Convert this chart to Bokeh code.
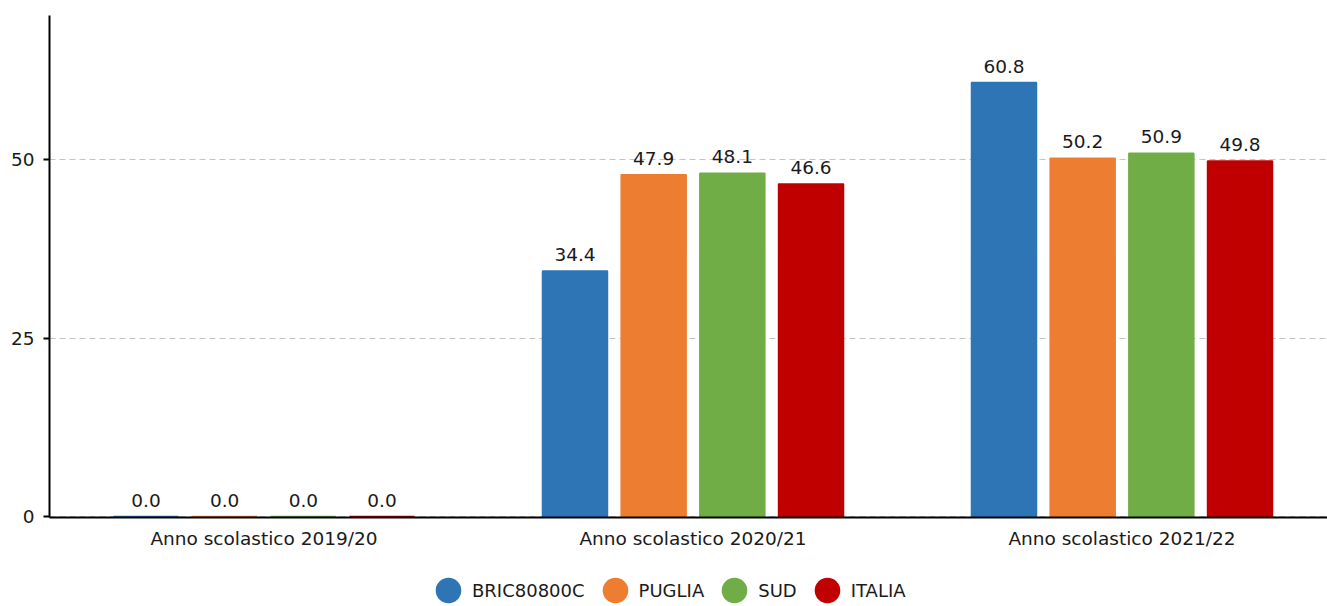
import numpy as np
from bokeh.plotting import figure
from bokeh.layouts import column
from bokeh.models import ColumnDataSource, Range1d, FixedTicker, Legend, LegendItem
from bokeh.core.properties import value
from bokeh.embed import file_html
from bokeh.resources import INLINE

# ---- data ----
categories = ["Anno scolastico 2019/20", "Anno scolastico 2020/21", "Anno scolastico 2021/22"]
series_names = ["BRIC80800C", "PUGLIA", "SUD", "ITALIA"]
bric = [0.0, 34.4, 60.8]
puglia = [0.0, 47.9, 50.2]
sud = [0.0, 48.1, 50.9]
italia = [0.0, 46.6, 49.8]
colors = ["#2E75B6", "#ED7D31", "#70AD47", "#C00000"]
y_ticks = [0, 25, 50]

series_values = [bric, puglia, sud, italia]
FONT = "DejaVu Sans"

p = figure(width=1327, height=551, output_backend="svg", toolbar_location=None,
           x_range=Range1d(0, 2.979), y_range=Range1d(-0.14, 70.2),
           min_border_left=49, min_border_right=0, min_border_top=15, min_border_bottom=33)
p.outline_line_color = None
p.background_fill_color = "white"

bar_w = 0.1515
step = 0.1834
offsets = [(-1.5 + i) * step for i in range(4)]
centers = np.arange(len(categories)) + 0.5

for name, vals, col, off in zip(series_names, series_values, colors, offsets):
    src = ColumnDataSource(dict(x=centers + off, top=vals,
                                lbl=["%.1f" % v for v in vals]))
    p.vbar(x="x", top="top", bottom=0, width=bar_w, source=src,
           fill_color=col, line_color=col, line_width=1.5)
    p.text(x="x", y="top", text="lbl", source=src, text_align="center",
           text_baseline="bottom", y_offset=-10, text_font=value(FONT),
           text_font_size="18.5px", text_color="#1a1a1a")

# axes
p.xaxis.ticker = FixedTicker(ticks=list(centers))
p.xaxis.major_label_overrides = {float(c): lab for c, lab in zip(centers, categories)}
p.xaxis.major_tick_line_color = None
p.xaxis.minor_tick_line_color = None
p.xaxis.axis_line_color = "black"
p.xaxis.axis_line_width = 2
p.xaxis.major_label_standoff = 4
p.xaxis.major_label_text_font = FONT
p.xaxis.major_label_text_font_size = "18.5px"
p.xaxis.major_label_text_color = "#1a1a1a"

p.yaxis.ticker = FixedTicker(ticks=y_ticks)
p.yaxis.axis_line_color = "black"
p.yaxis.axis_line_width = 2
p.yaxis.major_tick_line_color = "black"
p.yaxis.major_tick_line_width = 2
p.yaxis.major_tick_out = 6
p.yaxis.major_tick_in = 0
p.yaxis.minor_tick_line_color = None
p.yaxis.major_label_standoff = 9
p.yaxis.major_label_text_font = FONT
p.yaxis.major_label_text_font_size = "18.5px"
p.yaxis.major_label_text_color = "#1a1a1a"

p.xgrid.grid_line_color = None
p.ygrid.ticker = FixedTicker(ticks=y_ticks)
p.ygrid.grid_line_color = "#c4c4c4"
p.ygrid.grid_line_dash = "6 4"
p.ygrid.grid_line_width = 1

# ---- legend strip (separate figure below the chart) ----
lg = figure(width=1327, height=55, output_backend="svg", toolbar_location=None,
            x_range=Range1d(0, 1), y_range=Range1d(0, 1),
            x_axis_location=None, y_axis_location=None,
            min_border=0, min_border_left=0, min_border_right=0,
            min_border_top=0, min_border_bottom=0)
lg.outline_line_color = None
lg.xgrid.visible = False
lg.ygrid.visible = False

legend_items = []
for name, col in zip(series_names, colors):
    dummy = lg.ellipse(x=[np.nan], y=[np.nan], width=1, height=1,
                       width_units="screen", height_units="screen",
                       fill_color=col, line_color=None)
    legend_items.append(LegendItem(label=name, renderers=[dummy]))

legend = Legend(items=legend_items, orientation="horizontal", location=(383, 0),
                glyph_width=32, glyph_height=32, label_standoff=8, spacing=14,
                padding=0, margin=0, border_line_color=None, background_fill_alpha=0,
                label_text_font=FONT, label_text_font_size="18px",
                label_text_color="#1a1a1a")
lg.add_layout(legend, "center")

open("out.html", "w").write(file_html(column(p, lg, spacing=0), INLINE))
